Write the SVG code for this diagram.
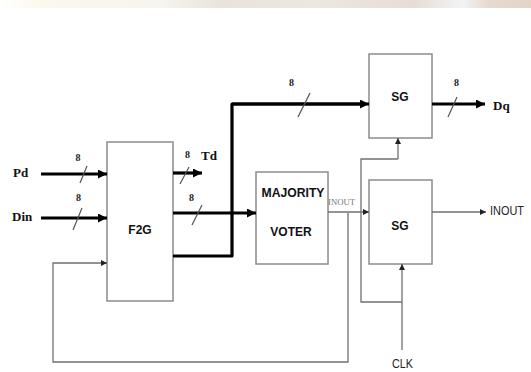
<svg xmlns="http://www.w3.org/2000/svg" width="531" height="372" viewBox="0 0 531 372">
<defs>
<linearGradient id="band" x1="0" y1="0" x2="1" y2="0">
<stop offset="0" stop-color="#ffffff"/>
<stop offset="0.08" stop-color="#fbf8ec"/>
<stop offset="0.3" stop-color="#f6f5ef"/>
<stop offset="0.42" stop-color="#e9e3dc"/>
<stop offset="0.6" stop-color="#ece7df"/>
<stop offset="0.78" stop-color="#e8ddd5"/>
<stop offset="0.87" stop-color="#f3f3f7"/>
<stop offset="0.92" stop-color="#e6d9cf"/>
<stop offset="1" stop-color="#e3d4c8"/>
</linearGradient>
<marker id="ah" markerUnits="userSpaceOnUse" markerWidth="10" markerHeight="10" refX="9" refY="4.5" orient="auto">
<path d="M0,0 L9,4.5 L0,9 z" fill="#000"/>
</marker>
<marker id="at" markerUnits="userSpaceOnUse" markerWidth="7" markerHeight="7" refX="6" refY="3" orient="auto">
<path d="M0,0 L6,3 L0,6 z" fill="#222"/>
</marker>
</defs>
<style>
.box{fill:#fff;stroke:#8c8c8c;stroke-width:1.5}
.thick{fill:none;stroke:#000;stroke-width:3.2;marker-end:url(#ah)}
.thickn{fill:none;stroke:#000;stroke-width:3.2;stroke-linejoin:round}
.thin{fill:none;stroke:#707070;stroke-width:1.3}
.thina{fill:none;stroke:#707070;stroke-width:1.3;marker-end:url(#at)}
.slash{stroke:#555;stroke-width:1.2}
.bus{font-family:"Liberation Serif",serif;font-weight:bold;font-size:10px;fill:#222}
.sig{font-family:"Liberation Serif",serif;font-weight:bold;font-size:13px;fill:#111}
.blk{font-family:"Liberation Sans",Arial,sans-serif;font-weight:bold;font-size:12px;fill:#111;text-anchor:middle}
.lbl{font-family:"Liberation Sans",Arial,sans-serif;font-size:13px;fill:#222}
</style>
<rect x="0" y="0" width="531" height="8" fill="url(#band)"/>

<g id="F2G"><rect class="box" x="107" y="142" width="66" height="159"/><text class="blk" x="140" y="234">F2G</text></g>
<g id="SG1"><rect class="box" x="369" y="54" width="63" height="84"/><text class="blk" x="400" y="101">SG</text></g>
<g id="SG2"><rect class="box" x="369" y="180" width="63" height="84"/><text class="blk" x="400" y="230">SG</text></g>
<g id="VOTER"><rect class="box" x="256" y="172" width="72" height="92"/><text class="blk" x="293" y="197" textLength="63" lengthAdjust="spacingAndGlyphs">MAJORITY</text><text class="blk" x="291" y="236">VOTER</text></g>

<g id="connectors">
<path class="thick" d="M41,174 H107"/>
<path class="thick" d="M41,218 H107"/>
<path class="thick" d="M173,173 H202"/>
<path class="thick" d="M173,213 H256"/>
<path class="thickn" d="M173,256 H232 V104 H361"/>
<path class="thick" d="M232,104 H369"/>
<path class="thick" d="M432,104 H485"/>
<path class="thina" d="M348,213 V362 H53 V263 H107"/>
<path class="thina" d="M328,212 H369"/>
<path class="thina" d="M432,212 H486"/>
<path class="thina" d="M402,350 V264"/>
<path class="thin" d="M402,302 H361 V159 H398"/>
<path class="thina" d="M398,159 V138"/>
<line class="slash" x1="80" y1="183" x2="87" y2="166"/>
<line class="slash" x1="73" y1="230" x2="82" y2="208"/>
<line class="slash" x1="180" y1="184" x2="189" y2="167"/>
<line class="slash" x1="192" y1="225" x2="202" y2="205"/>
<line class="slash" x1="298" y1="117" x2="310" y2="93"/>
<line class="slash" x1="448" y1="117" x2="457" y2="97"/>
</g>

<g id="labels">
<text class="bus" x="75.5" y="161">8</text>
<text class="bus" x="76" y="201">8</text>
<text class="bus" x="185" y="158">8</text>
<text class="bus" x="189" y="201">8</text>
<text class="bus" x="289" y="86">8</text>
<text class="bus" x="454" y="86">8</text>
<text class="sig" x="13" y="177">Pd</text>
<text class="sig" x="12" y="221">Din</text>
<text class="sig" x="201" y="160">Td</text>
<text class="sig" x="493" y="110">Dq</text>
<text x="328" y="205" font-family="Liberation Serif,serif" font-size="9" fill="#777" textLength="27" lengthAdjust="spacingAndGlyphs">INOUT</text>
<text class="lbl" x="490" y="215" textLength="34" lengthAdjust="spacingAndGlyphs">INOUT</text>
<text class="lbl" x="392" y="368" textLength="21" lengthAdjust="spacingAndGlyphs">CLK</text>
</g>
</svg>
